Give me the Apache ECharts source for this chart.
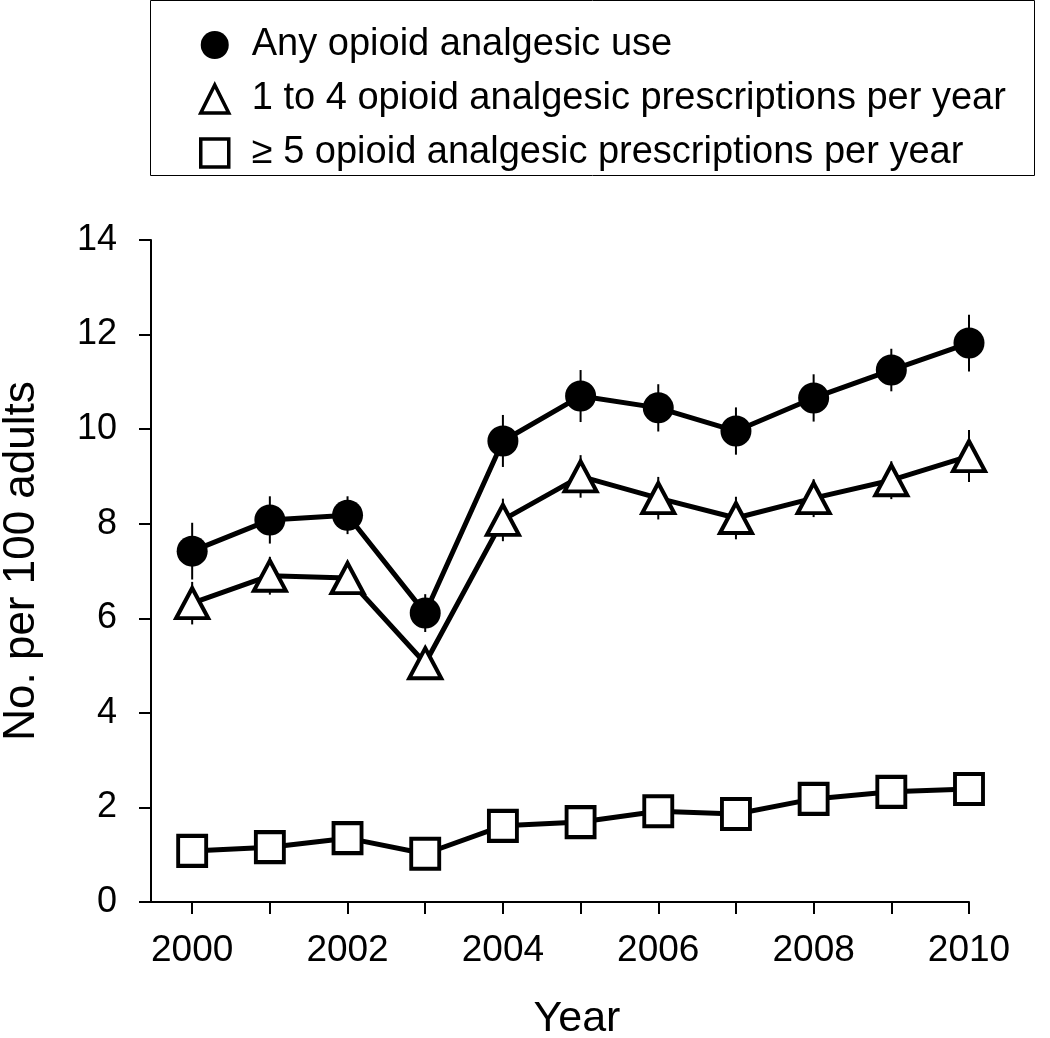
<!DOCTYPE html>
<html>
<head>
<meta charset="utf-8">
<script src="https://cdn.jsdelivr.net/npm/echarts@6/dist/echarts.min.js"></script>
<style>
  html, body { margin: 0; padding: 0; background: #fff; }
  #chart { width: 1050px; height: 1038px; }
</style>
</head>
<body>
<div id="chart"></div>
<script>
  // data
  const years = [2000, 2001, 2002, 2003, 2004, 2005, 2006, 2007, 2008, 2009, 2010];
  const anyUse = [7.42, 8.08, 8.18, 6.11, 9.75, 10.70, 10.45, 9.96, 10.66, 11.25, 11.82];
  const anyErr = [0.6, 0.5, 0.4, 0.4, 0.55, 0.55, 0.5, 0.5, 0.5, 0.45, 0.6];
  const oneToFour = [6.32, 6.90, 6.85, 5.05, 8.08, 9.00, 8.54, 8.12, 8.54, 8.92, 9.43];
  const oneToFourErr = [0.45, 0.4, 0.35, 0.35, 0.45, 0.45, 0.45, 0.45, 0.4, 0.4, 0.55];
  const fivePlus = [1.08, 1.16, 1.35, 1.02, 1.61, 1.69, 1.92, 1.86, 2.18, 2.33, 2.39];
  const xLabelYears = [2000, 2002, 2004, 2006, 2008, 2010];
  const names = [
    'Any opioid analgesic use',
    '1 to 4 opioid analgesic prescriptions per year',
    '\u2265 5 opioid analgesic prescriptions per year'
  ];

  const font = '"Liberation Sans", Arial, Helvetica, sans-serif';

  function pairs(vals) {
    return years.map((y, i) => [y, vals[i]]);
  }
  function errData(vals, errs) {
    return years.map((y, i) => [y, vals[i] - errs[i], vals[i] + errs[i]]);
  }
  // vertical error bar drawn through the library's coords
  function errBar(params, api) {
    const top = api.coord([api.value(0), api.value(2)]);
    const bot = api.coord([api.value(0), api.value(1)]);
    return {
      type: 'line',
      shape: { x1: top[0], y1: top[1], x2: bot[0], y2: bot[1] },
      style: { stroke: '#000', lineWidth: 2 }
    };
  }

  let myChart = echarts.init(document.getElementById('chart'));
  myChart.setOption({
    animation: false,
    backgroundColor: '#fff',
    graphic: [{
      type: 'rect',
      shape: { x: 150.5, y: 0.5, width: 884, height: 175 },
      style: { fill: 'none', stroke: '#000', lineWidth: 1 },
      z: 0
    }],
    legend: {
      orient: 'vertical',
      left: 194,
      top: 21,
      itemWidth: 28,
      itemHeight: 28,
      itemGap: 16,
      data: [
        { name: names[0], icon: 'circle', itemStyle: { color: '#000', borderWidth: 0 } },
        { name: names[1], icon: 'triangle', itemStyle: { color: '#fff', borderColor: '#000', borderWidth: 3.5 } },
        { name: names[2], icon: 'rect', itemStyle: { color: '#fff', borderColor: '#000', borderWidth: 3.5 } }
      ],
      textStyle: { fontFamily: font, fontSize: 38, color: '#000', padding: [0, 0, 0, 18] },
      selectedMode: false
    },
    grid: { left: 151, right: 81, top: 240, bottom: 136, outerBoundsMode: 'none' },
    xAxis: {
      type: 'value',
      min: 1999.47,
      max: 2010,
      name: 'Year',
      nameLocation: 'middle',
      nameGap: 96,
      nameTextStyle: { fontFamily: font, fontSize: 43, color: '#000', padding: [0, 0, 0, 34] },
      axisLine: { show: true, onZero: false, lineStyle: { color: '#000', width: 2 } },
      axisTick: { show: true, length: 12, lineStyle: { color: '#000', width: 2 }, customValues: years },
      axisLabel: {
        fontFamily: font, fontSize: 37, color: '#000', margin: 30,
        customValues: xLabelYears,
        formatter: v => String(v)
      },
      splitLine: { show: false }
    },
    yAxis: {
      type: 'value',
      min: 0,
      max: 14,
      interval: 2,
      name: 'No. per 100 adults',
      nameLocation: 'middle',
      nameGap: 107,
      nameRotate: 90,
      nameTextStyle: { fontFamily: font, fontSize: 44, color: '#000', padding: [0, 0, 0, 20] },
      axisLine: { show: true, lineStyle: { color: '#000', width: 2 } },
      axisTick: { show: true, length: 12, lineStyle: { color: '#000', width: 2 } },
      axisLabel: { fontFamily: font, fontSize: 36, color: '#000', margin: 34 },
      splitLine: { show: false }
    },
    series: [
      {
        name: 'err-any', type: 'custom', renderItem: errBar,
        data: errData(anyUse, anyErr), z: 1, silent: true
      },
      {
        name: 'err-1to4', type: 'custom', renderItem: errBar,
        data: errData(oneToFour, oneToFourErr), z: 1, silent: true
      },
      {
        name: names[0], type: 'line', data: pairs(anyUse), z: 3,
        symbol: 'circle', symbolSize: 31, showAllSymbol: true,
        lineStyle: { color: '#000', width: 5 },
        itemStyle: { color: '#000', borderWidth: 0 }
      },
      {
        name: names[1], type: 'line', data: pairs(oneToFour), z: 3,
        symbol: 'triangle', symbolSize: [32, 30], showAllSymbol: true,
        lineStyle: { color: '#000', width: 5 },
        itemStyle: { color: '#fff', borderColor: '#000', borderWidth: 4 }
      },
      {
        name: names[2], type: 'line', data: pairs(fivePlus), z: 3,
        symbol: 'rect', symbolSize: [28, 30], showAllSymbol: true,
        lineStyle: { color: '#000', width: 5 },
        itemStyle: { color: '#fff', borderColor: '#000', borderWidth: 4 }
      }
    ]
  });
</script>
</body>
</html>
